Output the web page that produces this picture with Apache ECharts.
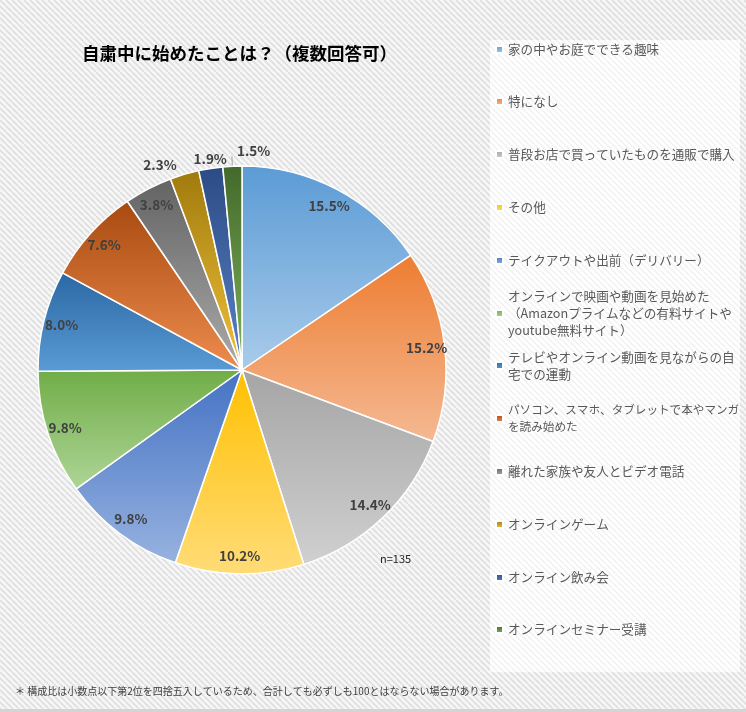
<!DOCTYPE html>
<html>
<head>
<meta charset="utf-8">
<script src="https://cdn.jsdelivr.net/npm/echarts@6/dist/echarts.min.js"></script>
<style>
html,body{margin:0;padding:0;background:#fff;}
#chart{width:746px;height:712px;}
</style>
</head>
<body>
<div id="chart"></div>
<script>
// ---- data ----
const titleText = '自粛中に始めたことは？（複数回答可）';
const categories = [
  '家の中やお庭でできる趣味',
  '特になし',
  '普段お店で買っていたものを通販で購入',
  'その他',
  'テイクアウトや出前（デリバリー）',
  'オンラインで映画や動画を見始めた（Amazonプライムなどの有料サイトやyoutube無料サイト）',
  'テレビやオンライン動画を見ながらの自宅での運動',
  'パソコン、スマホ、タブレットで本やマンガを読み始めた',
  '離れた家族や友人とビデオ電話',
  'オンラインゲーム',
  'オンライン飲み会',
  'オンラインセミナー受講'
];
const legendLabels = [
  '家の中やお庭でできる趣味',
  '特になし',
  '普段お店で買っていたものを通販で購入',
  'その他',
  'テイクアウトや出前（デリバリー）',
  'オンラインで映画や動画を見始めた\n（Amazonプライムなどの有料サイトや\nyoutube無料サイト）',
  'テレビやオンライン動画を見ながらの自\n宅での運動',
  'パソコン、スマホ、タブレットで本やマンガ\nを読み始めた',
  '離れた家族や友人とビデオ電話',
  'オンラインゲーム',
  'オンライン飲み会',
  'オンラインセミナー受講'
];
const values = [15.5, 15.2, 14.4, 10.2, 9.8, 9.8, 8.0, 7.6, 3.8, 2.3, 1.9, 1.5];
const sampleNote = 'n=135';
const footnote = '＊ 構成比は小数点以下第2位を四捨五入しているため、合計しても必ずしも100とはならない場合があります。';

// ---- styles ----
const topColors    = ['#5b9bd5','#ed7d31','#a5a5a5','#ffc000','#4472c4','#70ad47','#2a68a3','#a84a10','#636363','#a07a0d','#2b4b84','#43692b'];
const bottomColors = ['#a9cbea','#f5b993','#d0d0d0','#ffdc78','#97b2df','#aed597','#5b9bd5','#ee8c4e','#ababab','#f0c23a','#5b82c7','#7fb35c'];
const legendFontSizes = [12.6,12.6,12.6,12.6,12.6,12.6,12.6,11.6,12.6,12.6,12.6,12.6];
const CJK = '"Noto Sans CJK JP", "Noto Sans", sans-serif';

function makePattern(bg, stripe) {
  const c = document.createElement('canvas');
  c.width = 6; c.height = 6;
  const ctx = c.getContext('2d');
  ctx.fillStyle = bg; ctx.fillRect(0, 0, 6, 6);
  ctx.strokeStyle = stripe; ctx.lineWidth = 1.6;
  for (let k = -2; k <= 2; k++) {
    ctx.beginPath();
    ctx.moveTo(k * 6, 0);
    ctx.lineTo(k * 6 + 6, 6);
    ctx.stroke();
  }
  return { image: c, repeat: 'repeat' };
}

const chart = echarts.init(document.getElementById('chart'), null, { renderer: 'canvas' });

const gradient = i => ({
  type: 'linear', x: 0, y: 0, x2: 0, y2: 1,
  colorStops: [{ offset: 0, color: topColors[i] }, { offset: 1, color: bottomColors[i] }]
});

const mainData = categories.map((c, i) => ({
  name: c, value: values[i], itemStyle: { color: gradient(i) }
}));

const outsideIdx = [9, 10, 11];
const labelData = categories.map((c, i) => {
  const d = { name: c, value: values[i], itemStyle: { color: 'rgba(0,0,0,0)', borderWidth: 0 } };
  if (outsideIdx.indexOf(i) >= 0) {
    d.label = { position: 'outside' };
    d.labelLine = { show: i === 11, length: 10, length2: 0, lineStyle: { color: '#a6a6a6', width: 1 } };
  }
  return d;
});

const legends = categories.map((c, i) => {
  const n = legendLabels[i].split('\n').length;
  const block = 17 * (2 * n - 1);
  return {
    orient: 'vertical',
    left: 495,
    top: Math.round(49 + 52.8 * i - block / 2),
    padding: 0,
    itemWidth: 7,
    itemHeight: 7,
    icon: 'rect',
    selectedMode: false,
    z: 5,
    data: [{ name: c, textStyle: { padding: [17 * (n - 1), 0, 0, 0], fontSize: legendFontSizes[i] } }],
    formatter: () => legendLabels[i],
    textStyle: { color: '#595959', fontSize: 12.6, lineHeight: 17, fontFamily: CJK }
  };
});

const option = {
  animation: false,
  backgroundColor: '#f3f3f3',
  graphic: [
    { type: 'rect', z: -10, silent: true, shape: { x: 0, y: 0, width: 746, height: 712 },
      style: { fill: makePattern('#f6f6f6', '#dedede') } },
    { type: 'rect', z: -9, silent: true, shape: { x: 490, y: 40, width: 250, height: 632 },
      style: { fill: makePattern('#ffffff', '#f2f2f2') } },
    { type: 'rect', z: -8, silent: true, shape: { x: 0, y: 709, width: 746, height: 3 },
      style: { fill: '#d4d4d4' } }
  ],
  title: [
    { text: titleText, left: 82, top: 45, padding: 0,
      textStyle: { fontSize: 17.5, fontWeight: 'bold', color: '#000', fontFamily: CJK } },
    { text: sampleNote, left: 380, top: 553, padding: 0,
      textStyle: { fontSize: 11, fontWeight: 'normal', color: '#262626', fontFamily: CJK } },
    { text: footnote, left: 15, top: 686, padding: 0,
      textStyle: { fontSize: 10, fontWeight: 'normal', color: '#404040', fontFamily: CJK } }
  ],
  legend: legends,
  series: [
    {
      type: 'pie', silent: true,
      center: [242, 370], radius: [0, 204],
      startAngle: 90, clockwise: true,
      label: { show: false }, labelLine: { show: false },
      itemStyle: { borderColor: '#ffffff', borderWidth: 1.5 },
      emphasis: { disabled: true },
      data: mainData
    },
    {
      type: 'pie', silent: true,
      center: [242, 370], radius: [162, 204],
      startAngle: 90, clockwise: true,
      avoidLabelOverlap: false,
      emphasis: { disabled: true },
      label: {
        show: true, position: 'inside',
        formatter: p => p.value.toFixed(1) + '%',
        color: '#404040', fontSize: 13.5, fontWeight: 'bold', fontFamily: CJK
      },
      labelLine: { show: false },
      labelLayout: function (p) {
        if (p.dataIndex === 10) return { align: 'center', dx: 6 };
        if (p.dataIndex === 11) return { align: 'left', dx: 10, dy: -5 };
        return {};
      },
      data: labelData
    }
  ]
};
chart.setOption(option);
</script>
</body>
</html>
